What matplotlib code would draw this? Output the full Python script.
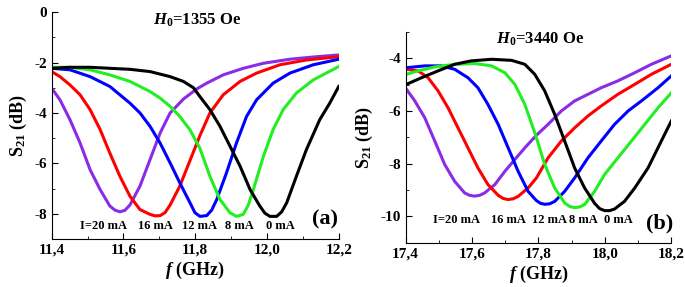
"""Transmission S21 spectra at two bias fields for several currents."""

import matplotlib
matplotlib.use("Agg")
import matplotlib.pyplot as plt
from matplotlib.ticker import FuncFormatter, MultipleLocator

plt.rcParams["font.family"] = "Liberation Serif"
plt.rcParams["font.weight"] = "bold"
plt.rcParams["mathtext.fontset"] = "custom"
plt.rcParams["mathtext.rm"] = "Liberation Serif:bold"
plt.rcParams["mathtext.it"] = "Liberation Serif:italic:bold"
plt.rcParams["mathtext.bf"] = "Liberation Serif:bold"

# ---- panel (a): H0 = 1355 Oe ----
a_20_f = [11.400, 11.423, 11.451, 11.479, 11.507, 11.535, 11.562, 11.576, 11.590, 11.604,
          11.618, 11.646, 11.674, 11.702, 11.730, 11.767, 11.804, 11.832, 11.878, 11.934,
          11.990, 12.064, 12.138, 12.200]
a_20_s = [-3.02, -3.48, -4.27, -5.19, -6.25, -7.04, -7.69, -7.85, -7.92, -7.86,
          -7.65, -6.90, -5.85, -4.80, -4.00, -3.45, -3.05, -2.82, -2.49, -2.23,
          -2.03, -1.87, -1.77, -1.70]
a_16_f = [11.400, 11.423, 11.451, 11.479, 11.507, 11.535, 11.562, 11.590, 11.618, 11.646,
          11.674, 11.688, 11.702, 11.716, 11.730, 11.757, 11.785, 11.813, 11.841, 11.878,
          11.925, 11.971, 12.036, 12.110, 12.200]
a_16_s = [-2.36, -2.56, -2.89, -3.28, -3.87, -4.66, -5.59, -6.51, -7.30, -7.83,
          -8.02, -8.08, -8.07, -7.95, -7.65, -6.90, -5.90, -4.90, -4.00, -3.28,
          -2.75, -2.42, -2.09, -1.90, -1.77]
a_12_f = [11.400, 11.451, 11.507, 11.562, 11.618, 11.646, 11.674, 11.702, 11.730, 11.757,
          11.785, 11.799, 11.813, 11.832, 11.846, 11.860, 11.887, 11.915, 11.943, 11.971,
          12.017, 12.064, 12.129, 12.200]
a_12_s = [-2.23, -2.29, -2.56, -2.95, -3.61, -4.00, -4.53, -5.19, -5.98, -6.77,
          -7.55, -7.95, -8.10, -8.07, -7.85, -7.43, -6.38, -5.19, -4.14, -3.48,
          -2.82, -2.42, -2.09, -1.87]
a_8_f = [11.400, 11.451, 11.507, 11.562, 11.618, 11.674, 11.702, 11.730, 11.757, 11.785,
         11.813, 11.841, 11.869, 11.897, 11.915, 11.934, 11.948, 11.962, 11.990, 12.017,
         12.045, 12.082, 12.129, 12.200]
a_8_s = [-2.19, -2.19, -2.29, -2.49, -2.75, -3.15, -3.41, -3.74, -4.14, -4.66,
         -5.40, -6.51, -7.43, -7.96, -8.10, -8.02, -7.65, -7.04, -5.72, -4.66,
         -3.87, -3.21, -2.69, -2.16]
a_0_f = [11.400, 11.451, 11.507, 11.562, 11.618, 11.674, 11.730, 11.767, 11.795, 11.813,
         11.841, 11.869, 11.897, 11.925, 11.953, 11.980, 11.994, 12.008, 12.027, 12.041,
         12.055, 12.082, 12.110, 12.147, 12.175, 12.200]
a_0_s = [-2.23, -2.19, -2.19, -2.23, -2.27, -2.36, -2.56, -2.75, -3.00, -3.35,
         -3.87, -4.53, -5.32, -6.11, -7.04, -7.69, -7.97, -8.10, -8.10, -7.92,
         -7.56, -6.51, -5.45, -4.27, -3.61, -2.95]

# ---- panel (b): H0 = 3440 Oe ----
b_20_f = [17.403, 17.428, 17.458, 17.488, 17.518, 17.548, 17.578, 17.593, 17.608, 17.623,
          17.638, 17.669, 17.699, 17.729, 17.759, 17.794, 17.829, 17.869, 17.909, 17.949,
          17.989, 18.039, 18.090, 18.140, 18.200]
b_20_s = [-5.18, -5.62, -6.26, -7.14, -8.03, -8.67, -9.11, -9.20, -9.23, -9.20,
          -9.11, -8.79, -8.29, -7.84, -7.40, -6.92, -6.51, -6.00, -5.62, -5.37,
          -5.12, -4.86, -4.55, -4.23, -3.91]
b_16_f = [17.403, 17.438, 17.468, 17.498, 17.528, 17.558, 17.588, 17.618, 17.648, 17.679,
          17.694, 17.709, 17.724, 17.739, 17.769, 17.794, 17.829, 17.869, 17.909, 17.949,
          17.989, 18.039, 18.090, 18.140, 18.200]
b_16_s = [-4.42, -4.48, -4.74, -5.24, -5.88, -6.64, -7.40, -8.16, -8.79, -9.20,
          -9.32, -9.36, -9.33, -9.24, -8.92, -8.54, -7.78, -7.14, -6.64, -6.19,
          -5.81, -5.37, -4.99, -4.61, -4.23]
b_12_f = [17.403, 17.458, 17.508, 17.548, 17.588, 17.618, 17.648, 17.679, 17.709, 17.739,
          17.769, 17.794, 17.806, 17.819, 17.834, 17.849, 17.879, 17.909, 17.949, 17.989,
          18.029, 18.070, 18.110, 18.160, 18.200]
b_12_s = [-4.36, -4.29, -4.29, -4.42, -4.74, -5.12, -5.75, -6.51, -7.40, -8.29,
          -9.05, -9.40, -9.50, -9.54, -9.52, -9.43, -9.05, -8.54, -7.78, -7.14,
          -6.51, -6.00, -5.62, -5.12, -4.67]
b_8_f = [17.403, 17.438, 17.488, 17.548, 17.608, 17.659, 17.699, 17.729, 17.759, 17.789,
         17.819, 17.849, 17.879, 17.894, 17.909, 17.924, 17.939, 17.969, 17.999, 18.039,
         18.080, 18.120, 18.160, 18.200]
b_8_s = [-4.61, -4.48, -4.33, -4.23, -4.20, -4.29, -4.55, -4.99, -5.75, -6.82,
         -8.03, -8.92, -9.49, -9.62, -9.67, -9.64, -9.55, -9.05, -8.41, -7.78,
         -7.14, -6.51, -5.88, -5.31]
b_0_f = [17.403, 17.448, 17.498, 17.548, 17.598, 17.659, 17.719, 17.759, 17.789, 17.819,
         17.849, 17.879, 17.909, 17.939, 17.969, 17.984, 17.999, 18.014, 18.029, 18.059,
         18.090, 18.130, 18.170, 18.200]
b_0_s = [-4.99, -4.74, -4.48, -4.23, -4.10, -4.04, -4.08, -4.23, -4.61, -5.24,
         -6.13, -7.14, -8.16, -8.92, -9.50, -9.70, -9.78, -9.78, -9.72, -9.43,
         -8.92, -8.16, -7.14, -6.38]

current_labels = ["I=20 mA", "16 mA", "12 mA", "8 mA", "0 mA"]
colors = ["#8c2be6", "#ff0000", "#0000ff", "#22ee22", "#000000"]
a_label_f = [11.543, 11.688, 11.813, 11.922, 12.036]
b_label_f = [17.553, 17.709, 17.834, 17.934, 18.042]

a_curves = [(a_20_f, a_20_s), (a_16_f, a_16_s), (a_12_f, a_12_s), (a_8_f, a_8_s), (a_0_f, a_0_s)]
b_curves = [(b_20_f, b_20_s), (b_16_f, b_16_s), (b_12_f, b_12_s), (b_8_f, b_8_s), (b_0_f, b_0_s)]

comma = FuncFormatter(lambda v, _: f"{v:.1f}".replace(".", ","))
integer = FuncFormatter(lambda v, _: f"{v:.0f}")


def style_axis(axis, xlim, ylim, yticks):
    axis.spines["top"].set_visible(False)
    axis.spines["right"].set_visible(False)
    axis.set_xlim(*xlim)
    axis.set_ylim(*ylim)
    axis.xaxis.set_major_locator(MultipleLocator(0.2))
    axis.xaxis.set_minor_locator(MultipleLocator(0.1))
    axis.set_yticks(yticks)
    axis.yaxis.set_minor_locator(MultipleLocator(1))
    axis.xaxis.set_major_formatter(comma)
    axis.yaxis.set_major_formatter(integer)
    axis.tick_params(which="major", direction="in", length=4, labelsize=11)
    axis.tick_params(which="minor", direction="in", length=2.5)
    axis.set_xlabel(r"$\mathit{f}$ (GHz)", fontsize=13, fontweight="bold", labelpad=2)
    axis.set_ylabel(r"S$_{21}$ (dB)", fontsize=13, fontweight="bold", labelpad=4)


figure = plt.figure(figsize=(6.85, 2.87), dpi=100)
ax_a = figure.add_axes([0.0755, 0.167, 0.419, 0.791])
ax_b = figure.add_axes([0.592, 0.154, 0.388, 0.735])

for (freq, s21), color in zip(a_curves, colors):
    ax_a.plot(freq, s21, color=color, lw=2.2, solid_joinstyle="round")
for (freq, s21), color in zip(b_curves, colors):
    ax_b.plot(freq, s21, color=color, lw=2.2, solid_joinstyle="round")

style_axis(ax_a, (11.4, 12.2), (-9, 0), [-8, -6, -4, -2, 0])
style_axis(ax_b, (17.4, 18.2), (-11, -3), [-10, -8, -6, -4])

for label, f_pos in zip(current_labels, a_label_f):
    ax_a.text(f_pos, -8.5, label, ha="center", va="center", fontsize=9, fontweight="bold")
for label, f_pos in zip(current_labels, b_label_f):
    ax_b.text(f_pos, -10.12, label, ha="center", va="center", fontsize=9, fontweight="bold")

ax_a.text(11.805, -0.32, r"$\mathit{H}_0$=1355 Oe", ha="center", va="center", fontsize=12)
ax_b.text(17.804, -3.30, r"$\mathit{H}_0$=3440 Oe", ha="center", va="center", fontsize=12)
ax_a.text(12.161, -8.22, "(a)", ha="center", va="center", fontsize=16, fontweight="bold")
ax_b.text(18.165, -10.25, "(b)", ha="center", va="center", fontsize=16, fontweight="bold")

figure.savefig("out.png", dpi=100)
plt.close(figure)
